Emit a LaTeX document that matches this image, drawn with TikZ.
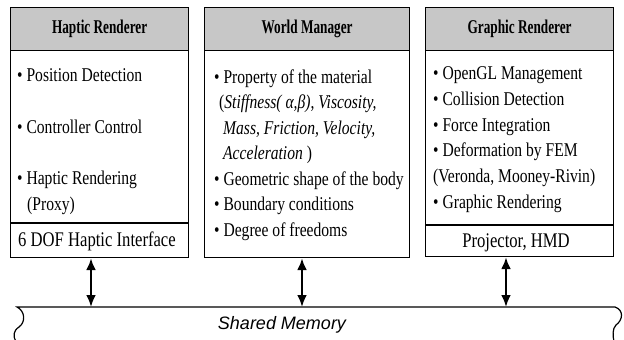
\documentclass[tikz,border=0pt]{standalone}
\usepackage{fontspec}
\setmainfont[FakeStretch=0.8]{Liberation Serif}
\newfontfamily\headfont[FakeStretch=0.68]{Liberation Serif}
\newfontfamily\memfont{Liberation Sans}
\usepackage{tikz}
\usetikzlibrary{arrows.meta}

\begin{document}
\begin{tikzpicture}[x=1pt, y=-1pt,
    box/.style={draw, line width=1.2pt, minimum height=250pt, anchor=north west, inner sep=0pt},
    head/.style={draw, line width=1.2pt, fill=black!22, minimum height=43pt, anchor=north west,
        inner sep=0pt, font=\headfont\bfseries\fontsize{19.5}{21}\selectfont},
    item/.style={anchor=base west, inner sep=0pt, font=\fontsize{19.5}{22}\selectfont},
    device/.style={anchor=base, inner sep=0pt, font=\fontsize{20.8}{23}\selectfont},
    link/.style={line width=2.4pt, {Latex[length=12pt,width=10pt]}-{Latex[length=12pt,width=10pt]}}]
    \useasboundingbox (0,0) rectangle (624,340);

    % haptic renderer
    \node[box, minimum width=178pt] (hapbox) at (10,7) {};
    \node[head, minimum width=178pt] (haphead) at (10,7) {Haptic Renderer};
    \node[item] (hap1) at (17,81) {\textbullet\ Position Detection};
    \node[item] (hap2) at (17,133) {\textbullet\ Controller Control};
    \node[item] (hap3) at (17,184) {\textbullet\ Haptic Rendering};
    \node[item] (hap4) at (27,210) {(Proxy)};
    \draw[line width=1.2pt] (hapbox.west |- 0,223) -- (hapbox.east |- 0,223);
    \node[device] (hapdev) at (97,246) {6 DOF Haptic Interface};

    % world manager
    \node[box, minimum width=205pt] (wmbox) at (204,7) {};
    \node[head, minimum width=205pt] (wmhead) at (204,7) {World Manager};
    \node[item] (wm1) at (214,83) {\textbullet\ Property of the material};
    \node[item] (wm2) at (219,108.5) {(\textit{Stiffness( α,β)}, \textit{Viscosity,}};
    \node[item] (wm3) at (223,134) {\textit{Mass, Friction, Velocity,}};
    \node[item] (wm4) at (223,159.5) {\textit{Acceleration} )};
    \node[item] (wm5) at (214,185) {\textbullet\ Geometric shape of the body};
    \node[item] (wm6) at (214,210.5) {\textbullet\ Boundary conditions};
    \node[item] (wm7) at (214,236) {\textbullet\ Degree of freedoms};

    % graphic renderer
    \node[box, minimum width=188pt, minimum height=249pt] (grbox) at (425,7) {};
    \node[head, minimum width=188pt] (grhead) at (425,7) {Graphic Renderer};
    \node[item] (gr1) at (433,79) {\textbullet\ OpenGL Management};
    \node[item] (gr2) at (433,105) {\textbullet\ Collision Detection};
    \node[item] (gr3) at (433,131) {\textbullet\ Force Integration};
    \node[item] (gr4) at (433,156) {\textbullet\ Deformation by FEM};
    \node[item] (gr5) at (433,182) {(Veronda, Mooney-Rivin)};
    \node[item] (gr6) at (433,208) {\textbullet\ Graphic Rendering};
    \draw[line width=1.2pt] (grbox.west |- 0,225) -- (grbox.east |- 0,225);
    \node[device] (grdev) at (516,247) {Projector, HMD};

    % shared memory
    \coordinate (memL) at (17,307);
    \coordinate (memR) at (615,307);
    \coordinate (a1) at (91,307);
    \coordinate (a2) at (302,307);
    \coordinate (a3) at (506,307);
    \draw[line width=1.2pt] (16,342) .. controls (13,336) and (13,331) .. (19,327)
        .. controls (26,322) and (25,311) .. (memL) -- (memR)
        .. controls (624,310) and (623,320) .. (616,325)
        .. controls (612,329) and (613,336) .. (614,342);
    \node[font=\memfont\itshape\fontsize{18}{20}\selectfont] (memtxt) at (282,325) {Shared Memory};

    \draw[link] (a1 |- hapbox.south) -- (a1);
    \draw[link] (a2 |- wmbox.south) -- (a2);
    \draw[link] (a3 |- grbox.south) -- (a3);
\end{tikzpicture}
\end{document}
